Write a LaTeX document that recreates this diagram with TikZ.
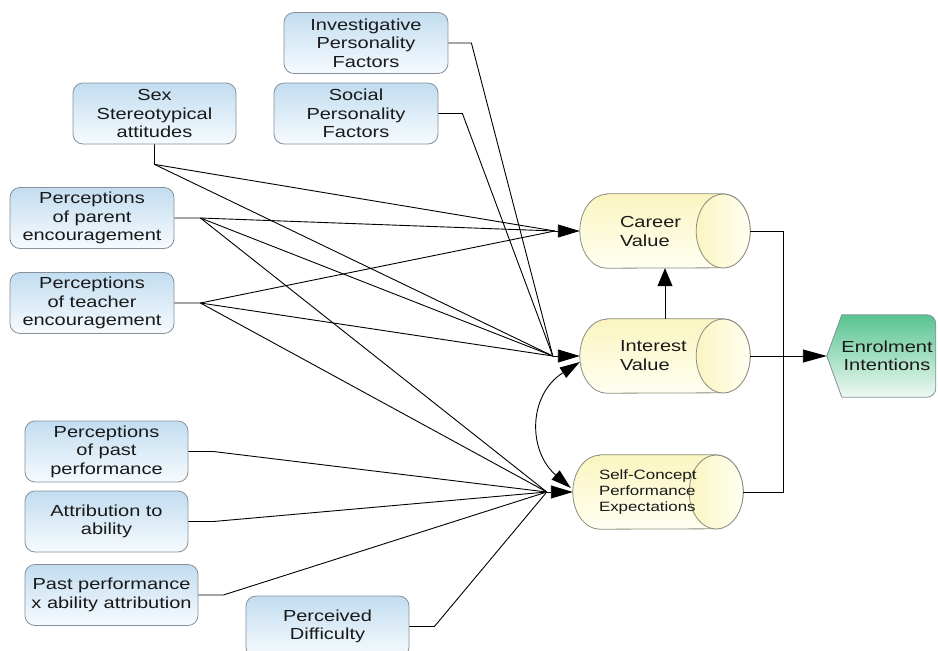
\documentclass[tikz,border=0pt]{standalone}
\usepackage{fontspec}
\setmainfont{Liberation Sans}[FakeStretch=1.25]
\usetikzlibrary{arrows.meta,calc,backgrounds}

\definecolor{boxtop}{RGB}{194,221,240}
\definecolor{boxbot}{RGB}{247,251,254}
\definecolor{boxline}{RGB}{135,145,155}
\definecolor{cyltop}{RGB}{250,245,192}
\definecolor{cylbot}{RGB}{255,255,242}
\definecolor{cylline}{RGB}{140,140,128}
\definecolor{entop}{RGB}{88,196,144}
\definecolor{enbot}{RGB}{238,249,243}
\definecolor{ink}{RGB}{25,25,25}

\tikzset{
  factor/.style={draw=boxline, line width=0.8pt, rounded corners=10pt,
    top color=boxtop, bottom color=boxbot, minimum width=164pt,
    minimum height=61pt, inner sep=0pt, align=center, text=ink,
    font=\fontsize{16}{18.5}\selectfont},
  cylnode/.style={minimum width=170pt, minimum height=74pt, inner sep=0pt,
    align=left, text=ink, font=\fontsize{16}{19}\selectfont},
  cylskin/.style={draw=cylline, line width=0.8pt, top color=cyltop, bottom color=cylbot},
  capskin/.style={draw=cylline, line width=0.8pt, left color=cyltop, right color=cylbot},
  link/.style={line width=0.9pt, draw=black},
  bighead/.style={-{Triangle[length=22pt,width=13pt]}},
}

% horizontal cylinder drawn behind a named node
\newcommand\cylinderskin[1]{%
  \path[cylskin] let \p1=(#1.north west), \p2=(#1.south east) in
    (\x1+27pt,\y1) -- (\x2-27pt,\y1)
    arc[start angle=90, end angle=-90, x radius=27pt, y radius=37pt]
    -- (\x1+27pt,\y2)
    arc[start angle=270, end angle=90, x radius=27pt, y radius=37pt] -- cycle;
  \path[capskin] let \p1=(#1.east) in
    (\x1-27pt,\y1) ellipse[x radius=27pt, y radius=37pt];
}

\begin{document}
\begin{tikzpicture}[x=1pt, y=-1pt]
\useasboundingbox (0,0) rectangle (938,651);
\clip (0,0) rectangle (938,651);

% source factors
\node[factor] (invest) at (366,43) {Investigative\\Personality\\Factors};
\node[factor] (social) at (356,113.5) {Social\\Personality\\Factors};
\node[factor, minimum width=163pt] (sex) at (154.5,113.5) {Sex\\Stereotypical\\attitudes};
\node[factor] (parent) at (92,218) {Perceptions\\of parent\\encouragement};
\node[factor] (teacher) at (92,303) {Perceptions\\of teacher\\encouragement};
\node[factor, minimum width=163pt] (pastperf) at (106.5,451.5) {Perceptions\\of past\\performance};
\node[factor, minimum width=163pt] (attrib) at (106.5,521.5) {Attribution to\\ability};
\node[factor, minimum width=173pt] (pastxab) at (111.5,595) {Past performance\\x ability attribution};
\node[factor, minimum width=163pt] (diff) at (327.5,626.5) {Perceived\\Difficulty};

% mediating values
\node[cylnode, text width=90pt] (career) at (665,231) {Career\\Value};
\node[cylnode, text width=90pt] (interest) at (665,356) {Interest\\Value};
\node[cylnode, text width=118pt, font=\fontsize{13.5}{15.8}\selectfont] (selfc) at (658,492)
  {Self-Concept\\Performance\\Expectations};

% outcome
\node[inner sep=0pt, minimum width=120pt, minimum height=82pt, align=center, text=ink,
  font=\fontsize{16}{18.5}\selectfont] (enrol) at (887,356) {Enrolment\\Intentions};

\begin{pgfonlayer}{background}
  \fill[white] (0,0) rectangle (938,651);
  \cylinderskin{career}
  \cylinderskin{interest}
  \cylinderskin{selfc}
  \path[draw=boxline, line width=0.8pt, top color=entop, bottom color=enbot]
    let \p1=(enrol.west), \p2=(enrol.north), \p3=(enrol.south) in
    (\x1,\y1) -- (\x1+15pt,\y2) [rounded corners=9pt] -- (\x1+109pt,\y2)
    -- (\x1+109pt,\y3) [sharp corners] -- (\x1+15pt,\y3) -- cycle;
\end{pgfonlayer}

% junctions where the paths meet
\coordinate (hubC) at ([xshift=-25pt]career.west);
\coordinate (hubI) at ([xshift=-27pt]interest.west);
\coordinate (hubS) at ([xshift=-26pt]selfc.west);
\coordinate (sexj) at ([yshift=-20pt]sex.south);
\coordinate (parj) at ([xshift=26pt]parent.east);
\coordinate (teaj) at ([xshift=26pt]teacher.east);
\coordinate (invj) at ([xshift=23pt]invest.east);
\coordinate (socj) at ([xshift=24pt]social.east);
\coordinate (ppj) at ([xshift=25pt]pastperf.east);
\coordinate (atj) at ([xshift=25pt]attrib.east);
\coordinate (pxj) at ([xshift=25pt]pastxab.east);
\coordinate (dfj) at ([xshift=25pt]diff.east);
\coordinate (busj) at ([xshift=33pt]interest.east);

% paths into Career Value
\draw[link] (sex.south) -- (sexj) -- (hubC);
\draw[link] (parent.east) -- (parj) -- (hubC);
\draw[link] (teacher.east) -- (teaj) -- (hubC);

% paths into Interest Value
\draw[link] (sexj) -- (hubI);
\draw[link] (parj) -- (hubI);
\draw[link] (teaj) -- (hubI);
\draw[link] (invest.east) -- (invj) -- (hubI);
\draw[link] (social.east) -- (socj) -- (hubI);

% paths into Self-Concept
\draw[link] (parj) -- (hubS);
\draw[link] (teaj) -- (hubS);
\draw[link] (pastperf.east) -- (ppj) -- (hubS);
\draw[link] (attrib.east) -- (atj) -- (hubS);
\draw[link] (pastxab.east) -- (pxj) -- (hubS);
\draw[link] (diff.east) -- (dfj) -- (hubS);

% arrowheads onto the values
\draw[link, bighead] (hubC) -- (career.west);
\draw[link, bighead] (hubI) -- (interest.west);
\draw[link, bighead] (hubS) -- (selfc.west);

% correlation between interest and self-concept
\coordinate (cI) at ([yshift=-6pt]interest.west);
\coordinate (cS) at ([xshift=-2pt,yshift=4pt]selfc.west);
\draw[link, {Triangle[length=20pt,width=12pt]}-{Triangle[length=20pt,width=12pt]}]
  (cS) .. controls +(-43,-37) and +(-52,33) .. (cI);

% interest feeds career value
\draw[link, -{Triangle[length=18pt,width=15pt]}] (interest.north) -- (career.south);

% outcome bus
\draw[link] (career.east) -| (busj);
\draw[link] (selfc.east) -| (busj);
\draw[link, -{Triangle[length=24pt,width=13pt]}] (interest.east) -- (enrol.west);

\end{tikzpicture}
\end{document}
